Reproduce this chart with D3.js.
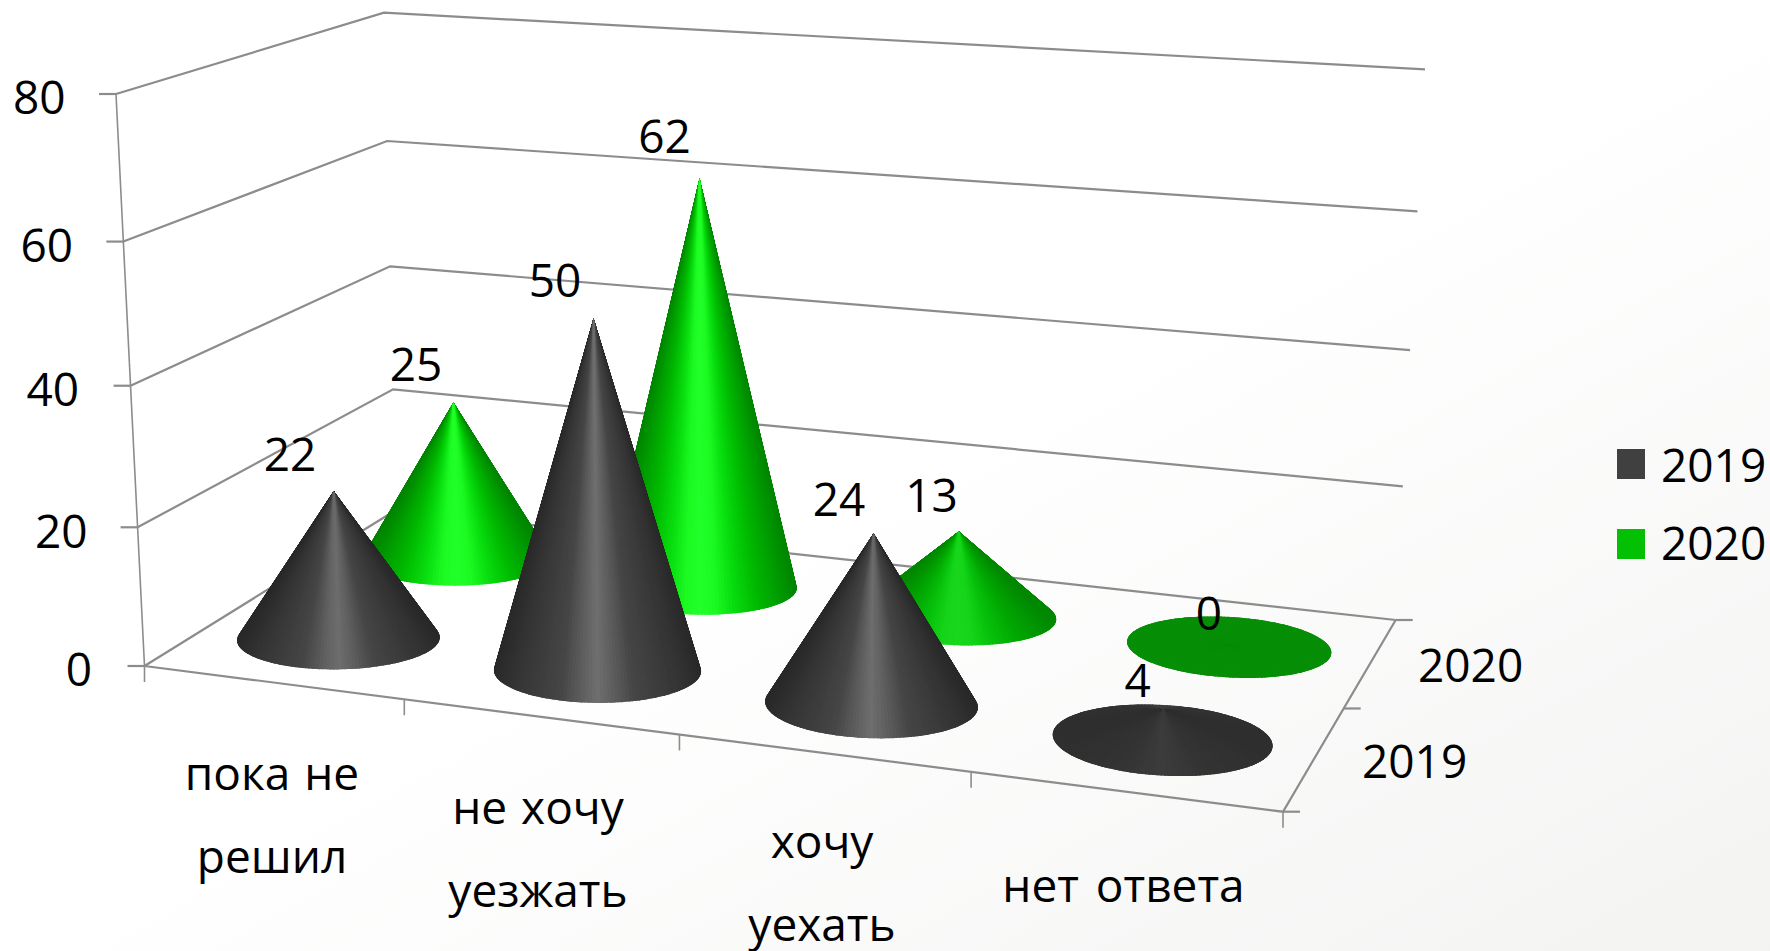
<!DOCTYPE html>
<html lang="ru"><head><meta charset="utf-8">
<style>html,body{margin:0;padding:0;background:#fff}svg{display:block}text{font-family:"Open Sans","Noto Sans",sans-serif;fill:#000}</style>
<script src="https://d3js.org/d3.v7.min.js"></script></head>
<body><svg id="c" width="1770" height="951"></svg>
<script>
// ---- data ----
const categories = ["пока не решил", "не хочу уезжать", "хочу уехать", "нет ответа"];
const categoryLines = [["пока не","решил"],["не хочу","уезжать"],["хочу","уехать"],["нет ответа"]];
const seriesNames = ["2019", "2020"];
const values2019 = [22, 50, 24, 4];
const values2020 = [25, 62, 13, 0];
const yTicks = [0, 20, 40, 60, 80];

// ---- layout of the 3D frame ----
const W = 1770, H = 951;
const floorQuad = {fl:[144.5,666], fr:[1283,811.7], br:[1395.7,620], bl:[396,510]};
const topQuad   = {fl:[116,94],    fr:[1312,168],   br:[1425,69.3],  bl:[384,12.7]};
const heightFrac = d3.scaleLinear().domain(yTicks).range([0,.2425,.49,.742,1]);
const xBand = d3.scaleBand().domain(categories).range([0,1]);
const zBand = d3.scaleBand().domain(seriesNames).range([0,1]);
const radiusU = .0905, radiusW = .166;
const floorWarp = d3.scaleLinear().domain([0,.25,.5,.75,1]).range([0,.2473,.4962,.7465,1]);
const topWarp   = d3.scaleLinear().domain([0,.25,.5,.75,1]).range([0,.2425,.4915,.7435,1]);
const tipInset = 2.5;

function homography(q){
  const [x0,y0]=q.fl,[x1,y1]=q.fr,[x2,y2]=q.br,[x3,y3]=q.bl;
  const dx1=x1-x2,dx2=x3-x2,dx3=x0-x1+x2-x3,dy1=y1-y2,dy2=y3-y2,dy3=y0-y1+y2-y3;
  const det=dx1*dy2-dx2*dy1;
  const g=(dx3*dy2-dx2*dy3)/det,h=(dx1*dy3-dx3*dy1)/det;
  const a=x1-x0+g*x1,b=x3-x0+h*x3,d=y1-y0+g*y1,e=y3-y0+h*y3;
  return (u,w)=>{const n=g*u+h*w+1;return [(a*u+b*w+x0)/n,(d*u+e*w+y0)/n];};
}
const H0=homography(floorQuad),H1=homography(topQuad);
function project(u,w,v){
  const a=H0(floorWarp(u),w),b=H1(topWarp(u),w),t=heightFrac(v);
  return [a[0]+(b[0]-a[0])*t,a[1]+(b[1]-a[1])*t];
}

const svg=d3.select("#c");
const defs=svg.append("defs");
const bg=defs.append("linearGradient").attr("id","bg").attr("x1",0).attr("y1",0).attr("x2",1).attr("y2",1);
bg.append("stop").attr("offset",.5).attr("stop-color","#ffffff");
bg.append("stop").attr("offset",1).attr("stop-color","#f3f3f2");
svg.append("rect").attr("width",W).attr("height",H).attr("fill","url(#bg)");

// ---- walls and floor ----
const gridColor="#8c8c8c";
const line=d3.line();
const frame=svg.append("g").attr("fill","none").attr("stroke",gridColor).attr("stroke-linecap","butt");
yTicks.forEach(v=>{
  frame.append("path").attr("stroke-width",2.2).attr("d",line([project(0,0,v),project(0,1,v),project(1,1,v)]));
  const p=project(0,0,v);
  frame.append("path").attr("stroke-width",2.2).attr("d",line([[p[0]-17,p[1]],p]));
});
frame.append("path").attr("stroke-width",1.6).attr("d",line([project(0,0,0),project(0,0,80)]));
frame.append("path").attr("stroke-width",2.2).attr("d",line([project(0,0,0),project(1,0,0),project(1,1,0)]));
const catEdges=[0,.25,.5,.75,1];
catEdges.forEach(u=>{const p=project(u,0,0);frame.append("path").attr("stroke-width",1.6).attr("d",line([p,[p[0],p[1]+16]]));});
[0,.5,1].forEach(w=>{const p=project(1,w,0);frame.append("path").attr("stroke-width",2.2).attr("d",line([p,[p[0]+17,p[1]]]));});

// ---- cones ----
const palette={
  "2019":{stops:["#6e6e6e","#5e5e5e","#464646","#3c3c3c","#333333","#292929"],flat:"#303030",legend:"#404040"},
  "2020":{stops:["#22ff2a","#1cfa22","#08dc0e","#00b800","#009c00","#008400"],flat:"#078e07",legend:"#03c003"}
};
const shadePos=[0,.15,.35,.6,.82,1];
const seriesValues={"2019":values2019,"2020":values2020};
const SEG=180;
const angles=d3.range(SEG);
const conesG=svg.append("g");
[...seriesNames].reverse().forEach(s=>{
  const pal=palette[s];
  const profile=d3.scaleLinear().domain(shadePos).range(pal.stops).interpolate(d3.interpolateRgb).clamp(true);
  categories.forEach((c,i)=>{
    const v=seriesValues[s][i];
    const uc=xBand(c)+xBand.bandwidth()/2, wc=zBand(s)+zBand.bandwidth()/2;
    const ap=project(uc,wc,v);
    const apex=[ap[0],ap[1]+(v>10?tipInset:0)];
    const rim=angles.map(k=>{const a=k/SEG*2*Math.PI;return H0(floorWarp(uc)+radiusU*Math.cos(a),wc+radiusW*Math.sin(a));});
    const cx=d3.mean(rim,p=>p[0]),rx=(d3.max(rim,p=>p[0])-d3.min(rim,p=>p[0]))/2;
    const tris=angles.map(k=>{
      const a=rim[k],b=rim[(k+1)%SEG],mx=(a[0]+b[0])/2,my=(a[1]+b[1])/2;
      const blend=Math.min(1,v/20);
      const col=d3.interpolateRgb(pal.flat,profile(Math.abs(mx-cx)/rx))(blend);
      return {pts:[apex,a,b],col,my};
    }).sort((p,q)=>p.my-q.my);
    const id=`clip${s}-${i}`;
    const hull=d3.polygonHull([apex,...rim]);
    defs.append("clipPath").attr("id",id).append("path").attr("d",line(hull)+"Z");
    conesG.append("g").attr("clip-path",`url(#${id})`).attr("data-series",s).attr("data-cat",c)
      .selectAll("path").data(tris).join("path")
      .attr("d",d=>line(d.pts)+"Z").attr("fill",d=>d.col).attr("stroke",d=>d.col).attr("stroke-width",1.2).attr("stroke-linejoin","round");
  });
});

// ---- text ----
const fs=46;
const T=svg.append("g").attr("font-size",fs);
const tickLabelPos=d3.scaleOrdinal().domain(yTicks).range([[92,685.7],[87.5,547.7],[79,406],[73,261.7],[65.5,114.3]]);
T.selectAll(".yl").data(yTicks).join("text").attr("class","yl").attr("text-anchor","end")
  .attr("x",d=>tickLabelPos(d)[0]).attr("y",d=>tickLabelPos(d)[1]).text(d=>d);
const catLabelPos=[[272,790],[538,824],[822,857.7],[1123.5,902.3]];
const catStep=83, catWordGap=[2,2,0,5];
categoryLines.forEach((ls,i)=>ls.forEach((t,j)=>T.append("text").attr("text-anchor","middle").attr("word-spacing",catWordGap[i]).attr("x",catLabelPos[i][0]).attr("y",catLabelPos[i][1]+j*catStep).text(t)));
const serLabelPos={"2019":[1362,777.7],"2020":[1418,682.3]};
seriesNames.forEach(s=>T.append("text").attr("x",serLabelPos[s][0]).attr("y",serLabelPos[s][1]).text(s));
const valueLabelPos={"2019":[[290,470.7],[555,297],[839,515.7],[1137.6,696.7]],"2020":[[416,380.7],[664.5,153],[931.5,512.3],[1209,630]]};
seriesNames.forEach(s=>seriesValues[s].forEach((v,i)=>T.append("text").attr("text-anchor","middle").attr("x",valueLabelPos[s][i][0]).attr("y",valueLabelPos[s][i][1]).text(v)));
const legendY={"2019":[449,482],"2020":[529,559.7]};
seriesNames.forEach(s=>{
  svg.append("rect").attr("x",1617).attr("y",legendY[s][0]).attr("width",28).attr("height",30).attr("fill",palette[s].legend);
  T.append("text").attr("x",1661).attr("y",legendY[s][1]).text(s);
});
</script></body></html>
